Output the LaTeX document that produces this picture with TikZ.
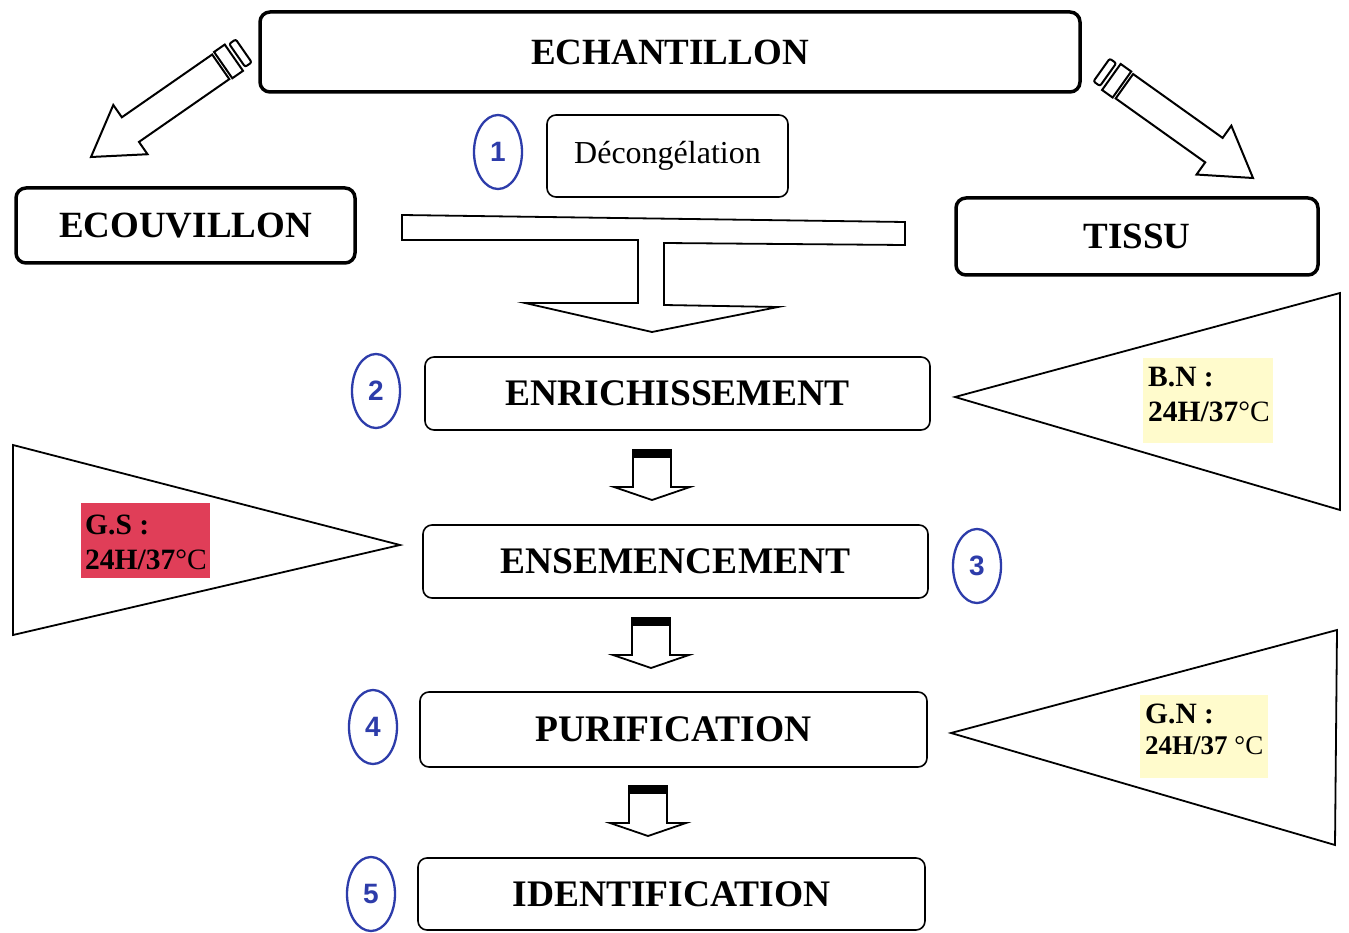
\documentclass[tikz,border=0pt]{standalone}
\usepackage{fontspec}
\setmainfont{Liberation Serif}
\newfontfamily\numfont{Liberation Sans}
\usetikzlibrary{shapes.geometric}
\definecolor{numblue}{RGB}{45,60,170}
\definecolor{gsred}{RGB}{224,62,88}
\definecolor{paleyellow}{RGB}{255,251,204}
\tikzset{
  bigbox/.style={draw, rounded corners=10pt, line width=3.5pt, font=\fontsize{37}{40}\selectfont\bfseries, inner sep=0pt},
  stepbox/.style={draw, rounded corners=9pt, line width=1.6pt, font=\fontsize{37.5}{40}\selectfont\bfseries, inner sep=0pt},
  numcirc/.style={ellipse, draw=numblue, line width=2.3pt, text=numblue, font=\fontsize{28}{30}\numfont\bfseries, minimum width=48pt, minimum height=74pt, inner sep=0pt},
  shapeline/.style={draw, line width=1.8pt, fill=white, line join=miter},
  condbox/.style={inner sep=0pt, anchor=north west},
  condtext/.style={anchor=base west, inner sep=0pt, font=\fontsize{29.5}{34}\selectfont},
  smallarrow/.pic={
    \draw[line width=1.8pt, fill=white, line join=miter] (-19,0) -- (19,0) -- (19,37) -- (38,37) -- (0,50) -- (-38,37) -- (-19,37) -- cycle;
    \fill (-20,-1) rectangle (20,8);
  },
  tubearrow/.pic={
    \draw[line width=2pt, fill=white, line join=miter] (0,0) -- (48,30) -- (48,15) -- (158,15) -- (158,-15) -- (48,-15) -- (48,-30) -- cycle;
    \draw[line width=2pt, fill=white] (161,-16) rectangle (174,16);
    \draw[line width=2pt, fill=white, rounded corners=2pt] (178,-14) rectangle (186,14);
  }
}
\begin{document}
\begin{tikzpicture}[x=1pt,y=-1pt]
\useasboundingbox (0,0) rectangle (1349,933);
\fill[white] (0,0) rectangle (1349,933);

% top boxes
\node[bigbox, minimum width=820pt, minimum height=80pt] (ech) at (670,52) {ECHANTILLON};
\node[bigbox, minimum width=339pt, minimum height=75pt] (ecou) at (185.5,225.5) {ECOUVILLON};
\node[bigbox, minimum width=362pt, minimum height=77pt] (tissu) at (1137,236.5) {TISSU};
\node[draw, rounded corners=9pt, line width=1.6pt, minimum width=241pt, minimum height=82pt, inner sep=0pt,
      font=\fontsize{32}{36}\selectfont] (decong) at (667.5,156) {Décongélation};

% diagonal tube arrows
\pic[rotate=34.8] (la) at (91,157) {tubearrow};
\pic[rotate=144.5] (ra) at (1253,178) {tubearrow};

% T arrow
\draw[shapeline] (402,215) -- (905,222) -- (905,245) -- (664,243) -- (664,305) -- (778,307)
   -- (652,332) -- (525,303) -- (638,303) -- (638,240) -- (402,240) -- cycle;

% step boxes
\node[stepbox, minimum width=505pt, minimum height=73pt] (enr) at (677.5,393.5) {ENRICHISSEMENT};
\node[stepbox, minimum width=505pt, minimum height=73pt] (ens) at (675.5,561.5) {ENSEMENCEMENT};
\node[stepbox, minimum width=507pt, minimum height=75pt] (pur) at (673.5,729.5) {PURIFICATION};
\node[stepbox, minimum width=507pt, minimum height=72pt] (ident) at (671.5,894) {IDENTIFICATION};

% numbers
\node[numcirc] (n1) at (498,152) {1};
\node[numcirc] (n2) at (376,391) {2};
\node[numcirc] (n3) at (977,566) {3};
\node[numcirc] (n4) at (373,727) {4};
\node[numcirc] (n5) at (371,894) {5};

% small down arrows
\pic (a1) at (652,450) {smallarrow};
\pic (a2) at (651,618) {smallarrow};
\pic (a3) at (648,786) {smallarrow};

% triangles
\draw[shapeline] (955,397) -- (1340,293) -- (1340,510) -- cycle;
\draw[shapeline] (400,545) -- (13,445) -- (13,635) -- cycle;
\draw[shapeline] (951,733) -- (1337,630) -- (1335,845) -- cycle;

% condition labels
\node[condbox, fill=paleyellow, minimum width=130pt, minimum height=85pt] (bnbox) at (1143,358) {};
\node[condtext] (bn1) at (1148,386) {\bfseries B.N :};
\node[condtext] (bn2) at (1148,421) {\bfseries 24H/37\mdseries°C};

\node[condbox, fill=gsred, minimum width=129pt, minimum height=75pt] (gsbox) at (81,503) {};
\node[condtext] (gs1) at (85,534) {\bfseries G.S :};
\node[condtext] (gs2) at (85,569) {\bfseries 24H/37\mdseries°C};

\node[condbox, fill=paleyellow, minimum width=128pt, minimum height=83pt] (gnbox) at (1140,695) {};
\node[condtext] (gn1) at (1145,723) {\bfseries G.N :};
\node[condtext, font=\fontsize{27}{34}\selectfont] (gn2) at (1145,754) {\bfseries 24H/37 \mdseries°C};
\end{tikzpicture}
\end{document}
